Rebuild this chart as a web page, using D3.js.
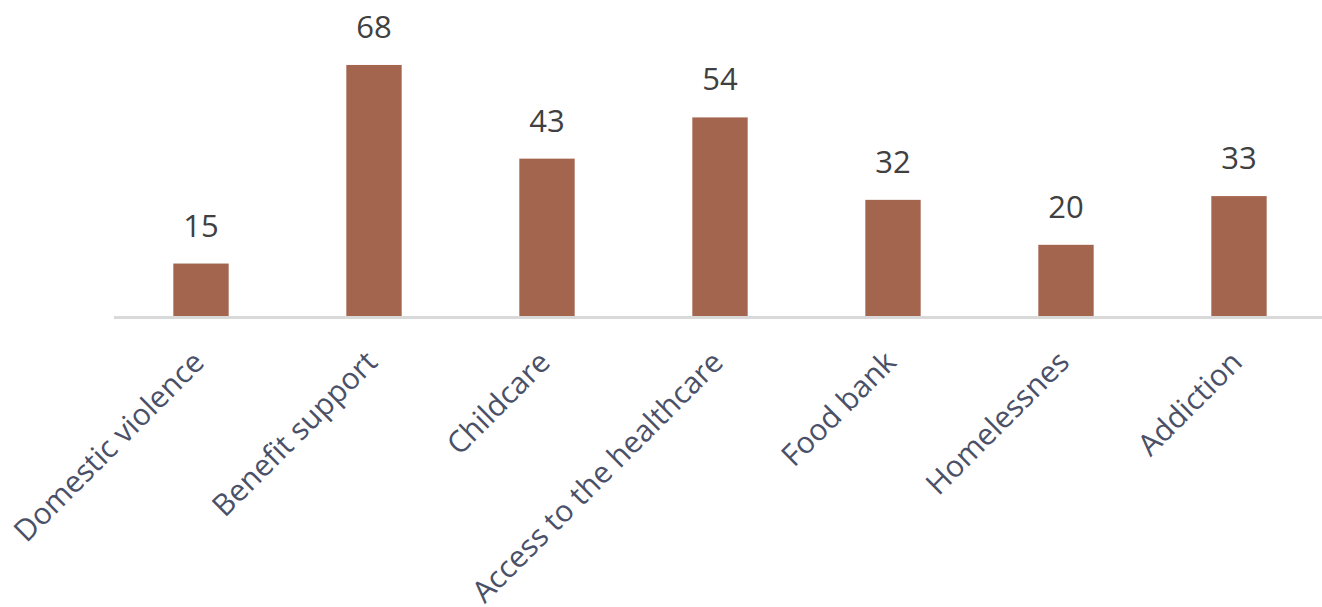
<!DOCTYPE html>
<html>
<head>
<meta charset="utf-8">
<script src="https://cdn.jsdelivr.net/npm/d3@7"></script>
<style>
  html, body { margin: 0; padding: 0; background: #ffffff; }
  svg { display: block; }
</style>
</head>
<body>
<svg id="chart" width="1322" height="607"></svg>
<script>
// Support needs reported, by category
const categories = [
  "Domestic violence",
  "Benefit support",
  "Childcare",
  "Access to the healthcare",
  "Food bank",
  "Homelessnes",
  "Addiction"
];
const counts = [15, 68, 43, 54, 32, 20, 33];

const W = 1322, H = 607;
const baseY = 316;
const svg = d3.select("#chart");

const x = d3.scaleBand()
  .domain(categories)
  .range([114.5, 114.5 + 173 * categories.length])
  .paddingInner(0.68)
  .paddingOuter(0.34);

const y = d3.scaleLinear()
  .domain([1, 80])
  .range([baseY, baseY - 296]);

const data = categories.map((c, i) => ({ cat: c, value: counts[i] }));

// Bars
svg.append("g")
  .selectAll("rect")
  .data(data)
  .join("rect")
  .attr("x", d => x(d.cat))
  .attr("y", d => y(d.value))
  .attr("width", x.bandwidth())
  .attr("height", d => baseY - y(d.value))
  .attr("fill", "#A4654E");

// Category axis line
svg.append("line")
  .attr("x1", 114).attr("x2", W)
  .attr("y1", baseY + 1.5).attr("y2", baseY + 1.5)
  .attr("stroke", "#d9d9d9")
  .attr("stroke-width", 3);

// Value labels above each bar
svg.append("g")
  .selectAll("text")
  .data(data)
  .join("text")
  .attr("x", d => x(d.cat) + x.bandwidth() / 2)
  .attr("y", d => y(d.value) - 27)
  .attr("text-anchor", "middle")
  .attr("font-family", "'Open Sans', sans-serif")
  .attr("font-size", 31)
  .attr("fill", "#404040")
  .text(d => d.value);

// Rotated category labels
svg.append("g")
  .selectAll("text")
  .data(data)
  .join("text")
  .attr("transform", d => `translate(${x(d.cat) + x.bandwidth() / 2 + 5},${baseY + 48}) rotate(-45)`)
  .attr("text-anchor", "end")
  .attr("font-family", "'Open Sans', sans-serif")
  .attr("font-size", 30)
  .attr("font-weight", 500)
  .attr("fill", "#4A5068")
  .text(d => d.cat);
</script>
</body>
</html>
